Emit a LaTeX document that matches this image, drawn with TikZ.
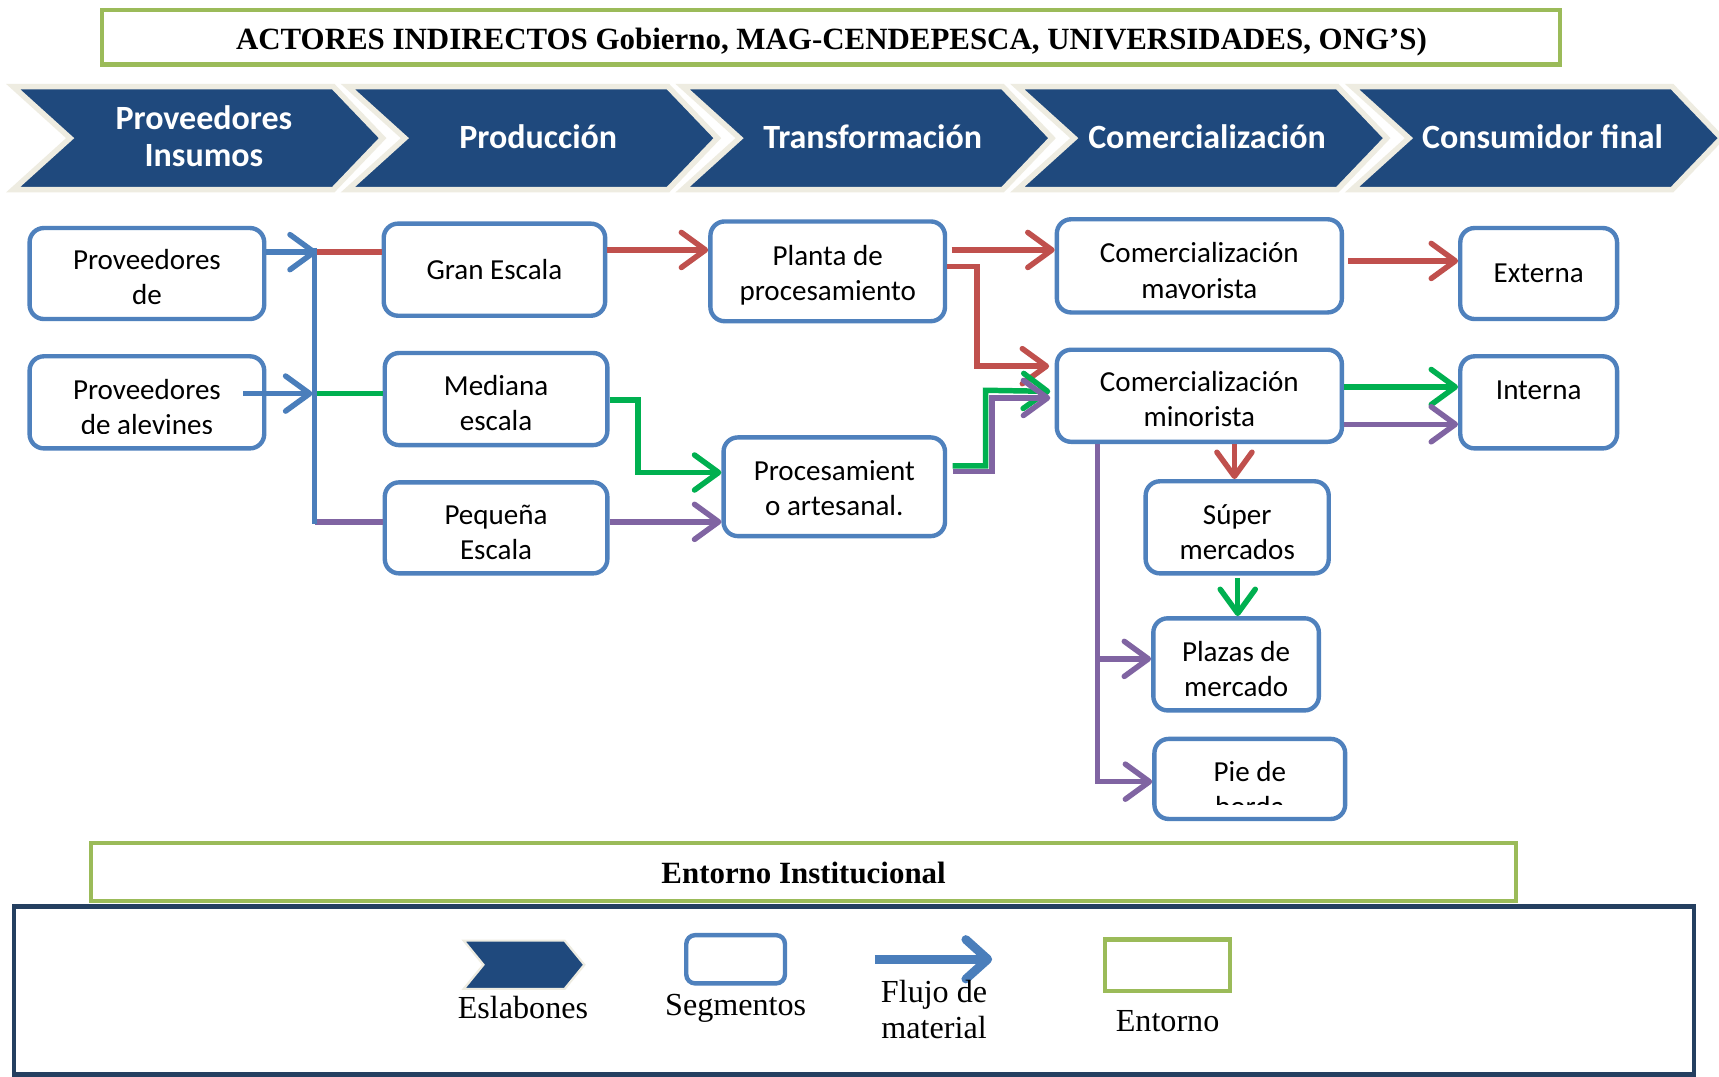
\documentclass[tikz,border=0pt]{standalone}
\usepackage{fontspec}
\usetikzlibrary{arrows.meta}
\newfontfamily\calibrifont{Carlito}
\newfontfamily\bookfont{Liberation Serif}
\definecolor{linkblue}{HTML}{1F497D}
\definecolor{linkedge}{HTML}{EEECE1}
\definecolor{segblue}{HTML}{4F81BD}
\definecolor{envgreen}{HTML}{9BBB59}
\definecolor{flowred}{HTML}{C0504D}
\definecolor{flowgreen}{HTML}{00B050}
\definecolor{flowpurple}{HTML}{8064A2}
\definecolor{flowblue}{HTML}{4A7EBB}
\definecolor{framenavy}{HTML}{243F60}
\begin{document}
\begin{tikzpicture}[x=1pt,y=-1pt,
  segbox/.style={draw=segblue, line width=4pt, rounded corners=13pt, fill=white, inner sep=0pt},
  segtext/.style={font=\calibrifont\fontsize{26.5}{32}\selectfont, anchor=base, inner sep=0pt},
  linktext/.style={font=\calibrifont\bfseries\fontsize{31}{34}\selectfont, text=white, anchor=base, inner sep=0pt},
  envbox/.style={draw=envgreen, line width=4pt, fill=white},
  envtext/.style={font=\bookfont\bfseries\fontsize{28.2}{30}\selectfont, anchor=base, inner sep=0pt},
  legtext/.style={font=\bookfont\fontsize{29.3}{32}\selectfont, anchor=base, inner sep=0pt},
  linkshape/.style={fill=linkblue, draw=linkedge, line width=5pt, line join=miter},
  flow/.style={line width=5pt, -{Straight Barb[length=22pt,width=32pt,round]}},
  plain/.style={line width=5pt},
  red/.style={draw=flowred}, grn/.style={draw=flowgreen},
  pur/.style={draw=flowpurple}, blu/.style={draw=flowblue}]

\useasboundingbox (0,0) rectangle (1568,982);
\clip (0,0) rectangle (1568,982);
\fill[white] (0,0) rectangle (1568,982);

% indirect actors banner
\draw[envbox] (93,9) rectangle (1423,59);
\node[envtext] (actores) at (758.5,45.5) {ACTORES INDIRECTOS Gobierno, MAG-CENDEPESCA, UNIVERSIDADES, ONG’S)};

% chain links
\foreach \L in {12,317.3,622.6,927.9,1233.2}
  \draw[linkshape] (\L,79) -- ++(292,0) -- ++(45,47) -- ++(-45,47) -- ++(-292,0) -- ++(52,-47) -- cycle;
\node[linktext] (link1a) at (186,118) {Proveedores};
\node[linktext] (link1b) at (186,152) {Insumos};
\node[linktext] (link2) at (491,135) {Producción};
\node[linktext] (link3) at (796,135) {Transformación};
\node[linktext] (link4) at (1101,135) {Comercialización};
\node[linktext] (link5) at (1407,135) {Consumidor final};

% segments
\node[segbox, minimum width=214pt, minimum height=83pt] (provA) at (134,249.5) {};
\node[segbox, minimum width=214pt, minimum height=84pt] (provB) at (134,367) {};
\node[segbox, minimum width=202pt, minimum height=84pt] (gran) at (451,246) {};
\node[segbox, minimum width=203pt, minimum height=84pt] (mediana) at (452.5,364) {};
\node[segbox, minimum width=203pt, minimum height=83pt] (pequena) at (452.5,481.5) {};
\node[segbox, minimum width=214pt, minimum height=91pt] (planta) at (755,247.5) {};
\node[segbox, minimum width=202pt, minimum height=90pt] (artes) at (761,444) {};
\node[segbox, minimum width=260pt, minimum height=85pt] (mayor) at (1094,242.5) {};
\node[segbox, minimum width=260pt, minimum height=84pt] (minor) at (1094,361) {};
\node[segbox, minimum width=143pt, minimum height=83pt] (externa) at (1403.5,249.5) {};
\node[segbox, minimum width=143pt, minimum height=84pt] (interna) at (1403.5,367) {};
\node[segbox, minimum width=167pt, minimum height=84pt] (super) at (1128.5,481) {};
\node[segbox, minimum width=151pt, minimum height=84pt] (plazas) at (1127.5,606) {};
\node[segbox, minimum width=174pt, minimum height=73pt] (pie) at (1140,710.5) {};

% segment labels (second lines are cut off by their text frames)
\node[segtext] (provA-a) at (134,246) {Proveedores};
\begin{scope}\clip (27,200) rectangle (241,279.5);
  \node[segtext] (provA-b) at (134,278) {de};\end{scope}
\node[segtext] (provB-a) at (134,364) {Proveedores};
\begin{scope}\clip (27,320) rectangle (241,395);
  \node[segtext] (provB-b) at (134,396) {de alevines};\end{scope}
\node[segtext] (gran-a) at (451,255) {Gran Escala};
\node[segtext] (mediana-a) at (452.5,361) {Mediana};
\begin{scope}\clip (351,320) rectangle (554,394.5);
  \node[segtext] (mediana-b) at (452.5,393) {escala};\end{scope}
\node[segtext] (pequena-a) at (452.5,478) {Pequeña};
\begin{scope}\clip (351,440) rectangle (554,511.5);
  \node[segtext] (pequena-b) at (452.5,510) {Escala};\end{scope}
\node[segtext] (planta-a) at (755,242) {Planta de};
\node[segtext] (planta-b) at (755,274) {procesamiento};
\node[segtext] (artes-a) at (761,438) {Procesamient};
\node[segtext] (artes-b) at (761,470) {o artesanal.};
\node[segtext] (mayor-a) at (1094,239) {Comercialización};
\begin{scope}\clip (964,200) rectangle (1224,272);
  \node[segtext] (mayor-b) at (1094,272) {mayorista};\end{scope}
\node[segtext] (minor-a) at (1094,357) {Comercialización};
\begin{scope}\clip (964,320) rectangle (1224,390);
  \node[segtext] (minor-b) at (1094,389) {minorista};\end{scope}
\node[segtext] (externa-a) at (1403.5,258) {Externa};
\node[segtext] (interna-a) at (1403.5,364) {Interna};
\node[segtext] (super-a) at (1128.5,478) {Súper};
\begin{scope}\clip (1045,440) rectangle (1212,511);
  \node[segtext] (super-b) at (1128.5,510) {mercados};\end{scope}
\node[segtext] (plazas-a) at (1127.5,603) {Plazas de};
\begin{scope}\clip (1052,565) rectangle (1203,635);
  \node[segtext] (plazas-b) at (1127.5,635) {mercado};\end{scope}
\node[segtext] (pie-a) at (1140,713) {Pie de};
\begin{scope}\clip (1053,675) rectangle (1227,734);
  \node[segtext] (pie-b) at (1140,745) {borda};\end{scope}

% material flow: suppliers to production scales
\coordinate (hubA) at (287,230);
\coordinate (hubB) at (287,359);
\coordinate (hubC) at (287,476);
\coordinate (hubTop) at (287,226);
\draw[plain,red] (hubA) -- (gran.west |- hubA);
\draw[plain,grn] (hubB) -- (mediana.west |- hubB);
\draw[plain,pur] (hubC) -- (pequena.west |- hubC);
\draw[plain,blu] (hubTop) -- ([yshift=-2pt]hubC);
\draw[flow,blu] (provA.east |- hubA) -- ([xshift=2pt]hubA);
\draw[flow,blu] ([xshift=-21pt]provA.east |- hubB) -- ([xshift=-2pt]hubB);

% production to transformation
\draw[flow,red] (gran.east |- 0,228) -- (planta.west |- 0,228);
\draw[flow,grn] (mediana.east |- 0,365) -| (582,431) -- (artes.west |- 0,431);
\draw[flow,pur] (pequena.east |- 0,476) -- (artes.west |- 0,476);

% transformation to commerce
\draw[flow,red] ([xshift=4pt]planta.east |- 0,228) -- (mayor.west |- 0,228);
\draw[flow,red] (planta.east |- 0,243) -| (891,334) -- ([xshift=-5pt]minor.west |- 0,334);
\draw[flow,grn] ([xshift=5pt]artes.east |- 0,425) -| (899,356) -- ([xshift=-4pt]minor.west |- 0,357);
\draw[flow,pur] ([xshift=5pt]artes.east |- 0,430) -| (905,363) -- ([xshift=-4pt]minor.west |- 0,363);

% commerce to final consumer
\draw[flow,red] ([xshift=4pt]mayor.east |- 0,238) -- (externa.west |- 0,238);
\draw[flow,grn] (minor.east |- 0,353) -- (interna.west |- 0,353);
\draw[flow,pur] (minor.east |- 0,387) -- (interna.west |- 0,387);
\draw[flow,red] (minor.south -| 1126,0) -- (super.north -| 1126,0);
\draw[flow,grn] ([yshift=-2pt]super.south -| 1129,0) -- (plazas.north -| 1129,0);
\coordinate (branch) at (1001,601);
\draw[flow,pur] (minor.south -| 1001,0) |- (pie.west |- 0,713);
\draw[flow,pur] (branch) -- (plazas.west |- branch);

% institutional environment
\draw[envbox] (83,769) rectangle (1383,822);
\node[envtext] (entorno) at (733,805.5) {Entorno Institucional};

% legend
\draw[draw=framenavy, line width=4pt] (13,827) rectangle (1545,980);
\draw[fill=linkblue, draw=linkedge, line width=2pt] (423,858) -- (515,858) -- (533,880) -- (515,902) -- (423,902) -- (441,880) -- cycle;
\node[legtext] (leg-link) at (477,929) {Eslabones};
\node[segbox, minimum width=90pt, minimum height=44pt, rounded corners=8pt] (leg-seg) at (671,875) {};
\node[legtext] (leg-segt) at (671,926) {Segmentos};
\coordinate (legA) at (798,875);
\coordinate (legB) at (905,875);
\draw[line width=8pt, draw=flowblue, -{Straight Barb[length=20pt,width=36pt,round]}] (legA) -- (legB);
\node[legtext] (leg-flow1) at (852,914) {Flujo de};
\node[legtext] (leg-flow2) at (852,947) {material};
\draw[envbox] (1008,857) rectangle (1122,904);
\node[legtext] (leg-env) at (1065,941) {Entorno};
\end{tikzpicture}
\end{document}
